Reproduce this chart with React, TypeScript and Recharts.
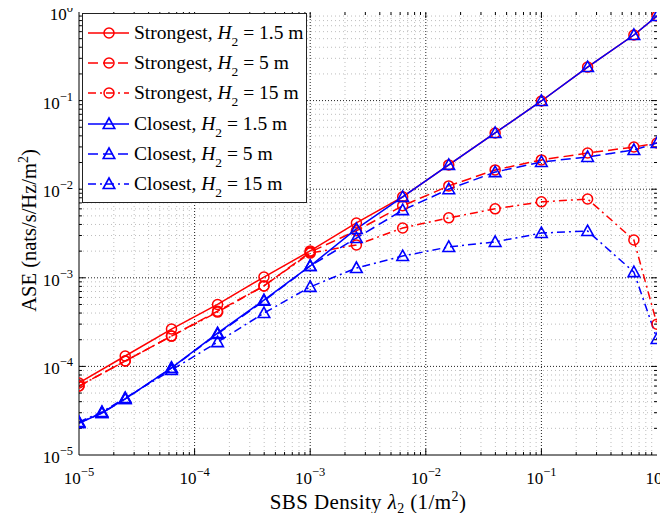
import React from "react";
import { LineChart, Line, XAxis, YAxis, ReferenceLine } from "recharts";

// SBS density values (1/m^2)
const densityStrongest = [1e-5, 2.51e-5, 6.31e-5, 1.58e-4, 3.98e-4, 1e-3, 2.51e-3, 6.31e-3, 1.58e-2, 3.98e-2, 0.1, 0.251, 0.631, 1];
const densityClosest = [1e-5, 1.58e-5, 2.51e-5, 6.31e-5, 1.58e-4, 3.98e-4, 1e-3, 2.51e-3, 6.31e-3, 1.58e-2, 3.98e-2, 0.1, 0.251, 0.631, 1];

// ASE (nats/s/Hz/m^2)
const strongestH15 = [6.5e-5, 1.31e-4, 2.64e-4, 5.0e-4, 1.02e-3, 2.01e-3, 4.16e-3, 8.2e-3, 0.0188, 0.0431, 0.099, 0.239, 0.55, 0.9];
const strongestH5 = [6.0e-5, 1.15e-4, 2.2e-4, 4.2e-4, 8.1e-4, 1.95e-3, 3.4e-3, 6.5e-3, 0.0109, 0.0165, 0.0214, 0.0256, 0.0299, 0.0332];
const strongestH15m = [6.0e-5, 1.15e-4, 2.2e-4, 4.1e-4, 8.1e-4, 1.9e-3, 2.35e-3, 3.65e-3, 4.75e-3, 6.0e-3, 7.2e-3, 7.75e-3, 2.67e-3, 3.0e-4];
const closestH15 = [2.3e-5, 2.98e-5, 4.29e-5, 9.6e-5, 2.38e-4, 5.6e-4, 1.36e-3, 3.56e-3, 8.2e-3, 0.0188, 0.0431, 0.099, 0.239, 0.55, 0.9];
const closestH5 = [2.3e-5, 2.98e-5, 4.29e-5, 9.6e-5, 2.32e-4, 5.5e-4, 1.36e-3, 2.81e-3, 5.8e-3, 0.01, 0.0156, 0.0203, 0.0231, 0.0277, 0.0332];
const closestH15m = [2.36e-5, 3.06e-5, 4.4e-5, 9.1e-5, 1.88e-4, 4.0e-4, 7.9e-4, 1.29e-3, 1.76e-3, 2.23e-3, 2.54e-3, 3.2e-3, 3.37e-3, 1.16e-3, 2.04e-4];

const decadeTicks = [1e-5, 1e-4, 1e-3, 1e-2, 1e-1, 1];
const tickExponents = ["\u22125", "\u22124", "\u22123", "\u22122", "\u22121", "0"];

const RED = "#ff0000";
const BLUE = "#0000ff";
const FONT = "Liberation Serif, DejaVu Serif, serif";

const toPoints = (xs: number[], ys: number[]) => xs.map((x, i) => ({ x, y: ys[i] }));

type Series = {
  label: string;
  h: string;
  data: { x: number; y: number }[];
  color: string;
  dash?: string;
  marker: "circle" | "triangle";
};

const series: Series[] = [
  { label: "Strongest", h: "1.5", data: toPoints(densityStrongest, strongestH15), color: RED, marker: "circle" },
  { label: "Strongest", h: "5", data: toPoints(densityStrongest, strongestH5), color: RED, dash: "10 5", marker: "circle" },
  { label: "Strongest", h: "15", data: toPoints(densityStrongest, strongestH15m), color: RED, dash: "8 4 2 4", marker: "circle" },
  { label: "Closest", h: "1.5", data: toPoints(densityClosest, closestH15), color: BLUE, marker: "triangle" },
  { label: "Closest", h: "5", data: toPoints(densityClosest, closestH5), color: BLUE, dash: "10 5", marker: "triangle" },
  { label: "Closest", h: "15", data: toPoints(densityClosest, closestH15m), color: BLUE, dash: "8 4 2 4", marker: "triangle" },
];

const minorValues: number[] = [];
for (let n = -5; n < 0; n++) {
  for (let k = 2; k <= 9; k++) minorValues.push(k * Math.pow(10, n));
}
const innerDecades = decadeTicks.slice(1, -1);

function Marker({ cx, cy, color, kind }: { cx: number; cy: number; color: string; kind: string }) {
  if (kind === "circle") {
    return <circle cx={cx} cy={cy} r={5} fill="none" stroke={color} strokeWidth={1.5} />;
  }
  return (
    <polygon
      points={`${cx},${cy - 6} ${cx - 5.8},${cy + 4.5} ${cx + 5.8},${cy + 4.5}`}
      fill="none"
      stroke={color}
      strokeWidth={1.6}
    />
  );
}

const XTick = (props: any) => {
  const { x, y, payload } = props;
  const i = decadeTicks.indexOf(payload.value);
  return (
    <text x={x} y={y + 29} textAnchor="middle" fontFamily={FONT} fontSize={17} fill="#000">
      10<tspan dy={-8} fontSize={12.5}>{tickExponents[i]}</tspan>
    </text>
  );
};

const YTick = (props: any) => {
  const { x, y, payload } = props;
  const i = decadeTicks.indexOf(payload.value);
  return (
    <text x={x} y={y + 8} textAnchor="end" fontFamily={FONT} fontSize={17} fill="#000">
      10<tspan dy={-8} fontSize={12.5}>{tickExponents[i]}</tspan>
    </text>
  );
};

const XLabel = (props: any) => {
  const vb = props.viewBox || {};
  return (
    <text
      x={vb.x + vb.width / 2}
      y={vb.y + 54}
      textAnchor="middle"
      fontFamily={FONT}
      fontSize={21}
      letterSpacing={0.4}
      fill="#000"
    >
      SBS Density <tspan fontStyle="italic">λ</tspan>
      <tspan dy={4} fontSize={14}>2</tspan>
      <tspan dy={-4}> (1/m</tspan>
      <tspan dy={-8} fontSize={14}>2</tspan>
      <tspan dy={8}>)</tspan>
    </text>
  );
};

const YLabel = (props: any) => {
  const vb = props.viewBox || {};
  const cx = 36;
  const cy = vb.y + vb.height / 2 - 3;
  return (
    <text x={cx} y={cy} transform={`rotate(-90 ${cx} ${cy})`} textAnchor="middle" fontFamily={FONT} fontSize={20.5} fill="#000">
      ASE (nats/s/Hz/m<tspan dy={-8} fontSize={14}>2</tspan>
      <tspan dy={8}>)</tspan>
    </text>
  );
};

function LegendBox() {
  return (
    <div
      style={{
        position: "absolute",
        left: 82,
        top: 13,
        width: 225,
        height: 190,
        border: "1px solid #222",
        background: "#fff",
        fontFamily: FONT,
        fontSize: 19.5,
        paddingTop: 4,
        boxSizing: "border-box",
      }}
    >
      {series.map((s, i) => (
        <div key={i} style={{ height: 30.2, display: "flex", alignItems: "center" }}>
          <svg width={51} height={20} style={{ flex: "none" }}>
            <line x1={5} y1={10} x2={46} y2={10} stroke={s.color} strokeWidth={1.5} strokeDasharray={s.dash} />
            <Marker cx={26} cy={10} color={s.color} kind={s.marker} />
          </svg>
          <span style={{ whiteSpace: "nowrap" }}>
            {s.label}, <i>H</i>
            <span style={{ fontSize: 13.5, position: "relative", top: 7 }}>2</span> = {s.h} m
          </span>
        </div>
      ))}
    </div>
  );
}

export default function App() {
  return (
    <div style={{ margin: -8, width: 668, height: 521, position: "relative", background: "#fff" }}>
      <LineChart width={668} height={521} margin={{ top: 12, right: 11, left: 19, bottom: 36 }} style={{ overflow: "visible" }}>
        {minorValues.map((v) => (
          <ReferenceLine key={"mx" + v} x={v} stroke="#bdbdbd" strokeDasharray="1 3" />
        ))}
        {minorValues.map((v) => (
          <ReferenceLine key={"my" + v} y={v} stroke="#bdbdbd" strokeDasharray="1 3" />
        ))}
        {innerDecades.map((v) => (
          <ReferenceLine key={"Mx" + v} x={v} stroke="#222" strokeDasharray="1 2" />
        ))}
        {innerDecades.map((v) => (
          <ReferenceLine key={"My" + v} y={v} stroke="#222" strokeDasharray="1 2" />
        ))}
        {innerDecades.map((v) => (
          <ReferenceLine key={"tb" + v} segment={[{ x: v, y: 1e-5 }, { x: v, y: 1.17e-5 }]} stroke="#000" />
        ))}
        {innerDecades.map((v) => (
          <ReferenceLine key={"tt" + v} segment={[{ x: v, y: 1 }, { x: v, y: 0.855 }]} stroke="#000" />
        ))}
        {innerDecades.map((v) => (
          <ReferenceLine key={"tl" + v} segment={[{ x: 1e-5, y: v }, { x: 1.13e-5, y: v }]} stroke="#000" />
        ))}
        {innerDecades.map((v) => (
          <ReferenceLine key={"tr" + v} segment={[{ x: 1, y: v }, { x: 0.887, y: v }]} stroke="#000" />
        ))}
        {minorValues.map((v) => (
          <ReferenceLine key={"mb" + v} segment={[{ x: v, y: 1e-5 }, { x: v, y: 1.08e-5 }]} stroke="#000" />
        ))}
        {minorValues.map((v) => (
          <ReferenceLine key={"mt" + v} segment={[{ x: v, y: 1 }, { x: v, y: 0.925 }]} stroke="#000" />
        ))}
        {minorValues.map((v) => (
          <ReferenceLine key={"ml" + v} segment={[{ x: 1e-5, y: v }, { x: 1.06e-5, y: v }]} stroke="#000" />
        ))}
        {minorValues.map((v) => (
          <ReferenceLine key={"mr" + v} segment={[{ x: 1, y: v }, { x: 0.942, y: v }]} stroke="#000" />
        ))}
        <XAxis
          dataKey="x"
          type="number"
          scale="log"
          domain={[1e-5, 1]}
          ticks={decadeTicks}
          allowDataOverflow
          tickSize={0}
          tickMargin={0}
          height={30}
          tick={<XTick />}
          axisLine={{ stroke: "#000" }}
          label={<XLabel />}
        />
        <XAxis
          xAxisId="top"
          orientation="top"
          type="number"
          scale="log"
          domain={[1e-5, 1]}
          allowDataOverflow
          height={0}
          tick={false}
          tickLine={false}
          axisLine={{ stroke: "#000" }}
        />
        <YAxis
          dataKey="y"
          type="number"
          scale="log"
          domain={[1e-5, 1]}
          ticks={decadeTicks}
          allowDataOverflow
          tickSize={0}
          tickMargin={6}
          width={60}
          tick={<YTick />}
          axisLine={{ stroke: "#000" }}
          label={<YLabel />}
        />
        <YAxis
          yAxisId="right"
          orientation="right"
          type="number"
          scale="log"
          domain={[1e-5, 1]}
          allowDataOverflow
          width={0}
          tick={false}
          tickLine={false}
          axisLine={{ stroke: "#000" }}
        />
        {series.map((s, i) => (
          <Line
            key={i}
            data={s.data}
            dataKey="y"
            type="linear"
            stroke={s.color}
            strokeWidth={1.5}
            strokeDasharray={s.dash}
            isAnimationActive={false}
            dot={(p: any) => <Marker key={p.key ?? `${i}-${p.index}`} cx={p.cx} cy={p.cy} color={s.color} kind={s.marker} />}
            activeDot={false}
          />
        ))}
      </LineChart>
      <LegendBox />
    </div>
  );
}
